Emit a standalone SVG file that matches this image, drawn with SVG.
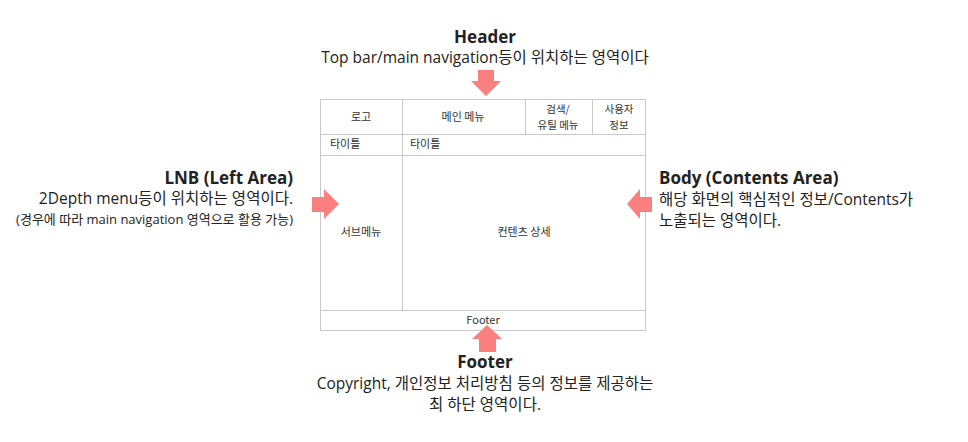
<svg xmlns="http://www.w3.org/2000/svg" width="968" height="442" viewBox="0 0 968 442">
<style>
.t{font-family:"Open Sans","Noto Sans CJK KR",sans-serif;fill:#222}
.h{font-weight:bold;font-size:17px}
.d{font-size:15.5px}
.s{font-size:13px}
.c{font-family:"Noto Sans CJK KR","Open Sans",sans-serif;font-size:11px;fill:#333}
.c2{font-size:10.5px}
.ln{fill:none;stroke:#c8c8c8;stroke-width:1}
.ar{fill:#fa8080}
</style>
<rect width="968" height="442" fill="#fff"/>
<g id="layout">
<rect class="ln" x="320.5" y="99.5" width="325" height="231"/>
<line class="ln" x1="320" y1="134.5" x2="646" y2="134.5"/>
<line class="ln" x1="320" y1="155.5" x2="646" y2="155.5"/>
<line class="ln" x1="320" y1="310.5" x2="646" y2="310.5"/>
<line class="ln" x1="402.5" y1="99" x2="402.5" y2="310"/>
<line class="ln" x1="525.5" y1="99" x2="525.5" y2="134"/>
<line class="ln" x1="592.5" y1="99" x2="592.5" y2="134"/>
<text class="c" x="361" y="121" text-anchor="middle">로고</text>
<text class="c" x="463" y="121" text-anchor="middle">메인 메뉴</text>
<text class="c c2" x="558" y="113" text-anchor="middle">검색/</text>
<text class="c c2" x="558" y="128.5" text-anchor="middle">유틸 메뉴</text>
<text class="c c2" x="619" y="113" text-anchor="middle">사용자</text>
<text class="c c2" x="619" y="128.5" text-anchor="middle">정보</text>
<text class="c" x="330" y="148">타이틀</text>
<text class="c" x="410" y="148">타이틀</text>
<text class="c" x="361" y="236" text-anchor="middle">서브메뉴</text>
<text class="c" x="524" y="236" text-anchor="middle">컨텐츠 상세</text>
<text class="c" x="483" y="324" text-anchor="middle">Footer</text>
</g>
<g id="header">
<text class="t h" x="485" y="43" text-anchor="middle">Header</text>
<text class="t d" x="485" y="63" text-anchor="middle">Top bar/main navigation등이 위치하는 영역이다</text>
</g>
<g id="lnb">
<text class="t h" x="293" y="184" text-anchor="end">LNB (Left Area)</text>
<text class="t d" x="293" y="204" text-anchor="end">2Depth menu등이 위치하는 영역이다.</text>
<text class="t s" x="293" y="224" text-anchor="end">(경우에 따라 main navigation 영역으로 활용 가능)</text>
</g>
<g id="body">
<text class="t h" x="659" y="184">Body (Contents Area)</text>
<text class="t d" x="659" y="205">해당 화면의 핵심적인 정보/Contents가</text>
<text class="t d" x="659" y="226">노출되는 영역이다.</text>
</g>
<g id="footer">
<text class="t h" x="485" y="368" text-anchor="middle">Footer</text>
<text class="t d" x="485" y="389" text-anchor="middle">Copyright, 개인정보 처리방침 등의 정보를 제공하는</text>
<text class="t d" x="485" y="410" text-anchor="middle">최 하단 영역이다.</text>
</g>
<g id="connectors">
<polygon class="ar" points="478,70 494,70 494,81 501,81 486,96 471,81 478,81"/>
<polygon class="ar" points="312,197 324,197 324,189 339,204 324,219 324,212 312,212"/>
<polygon class="ar" points="652,197 640,197 640,189 627,204 640,219 640,212 652,212"/>
<polygon class="ar" points="479,352 496,352 496,339 502,339 487,325 472,339 479,339"/>
</g>
</svg>
